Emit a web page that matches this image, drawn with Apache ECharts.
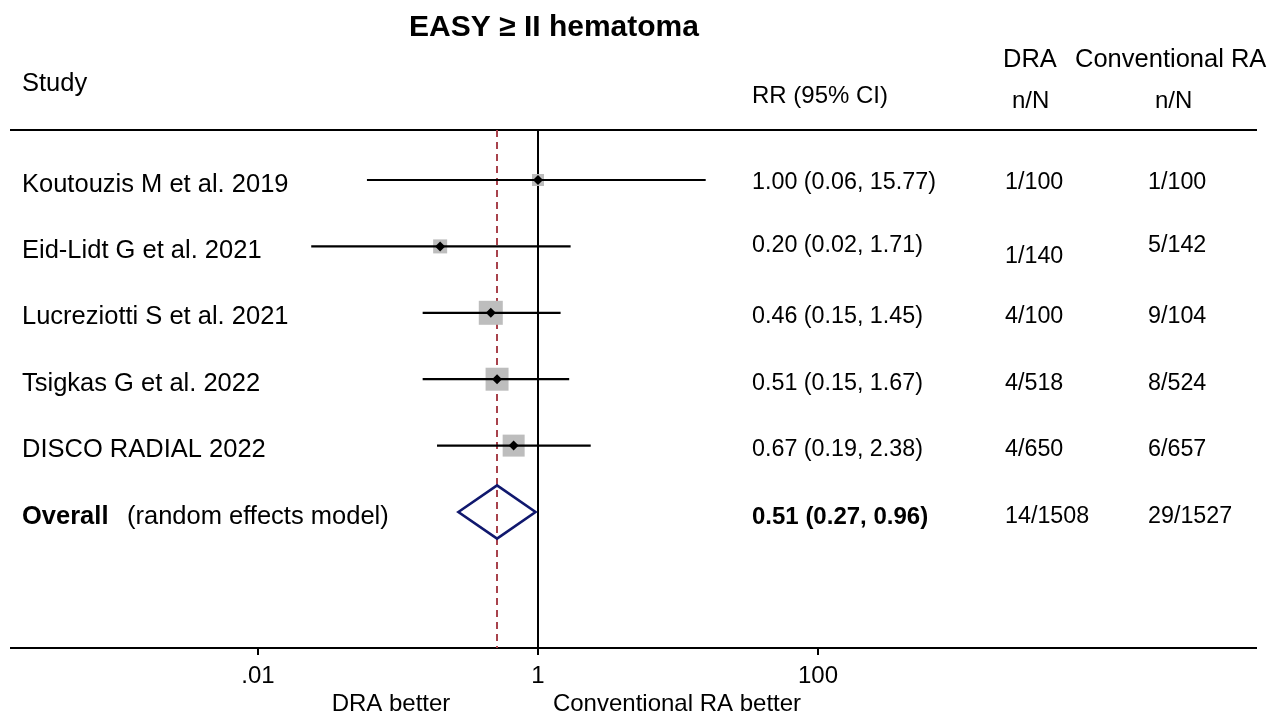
<!DOCTYPE html>
<html><head><meta charset="utf-8">
<script src="https://cdn.jsdelivr.net/npm/echarts@6/dist/echarts.min.js"></script>
<style>html,body{margin:0;padding:0;background:#fff}#c{width:1279px;height:717px}</style>
</head><body><div id="c"></div>
<script>
// ---------- data ----------
const studies = ['Koutouzis M et al. 2019','Eid-Lidt G et al. 2021','Lucreziotti S et al. 2021','Tsigkas G et al. 2022','DISCO RADIAL 2022'];
const rr      = [1.00, 0.20, 0.46, 0.51, 0.67];
const ciLow   = [0.06, 0.024, 0.15, 0.15, 0.19];
const ciHigh  = [15.77, 1.71, 1.45, 1.67, 2.38];
const weights = [7.5, 10.2, 29.9, 27.4, 25.1];
const draCounts  = ['1/100','1/140','4/100','4/518','4/650'];
const convCounts = ['1/100','5/142','9/104','8/524','6/657'];
const overallRR = 0.51, overallLow = 0.27, overallHigh = 0.96;
const overallDra = '14/1508', overallConv = '29/1527';
const tickLabels = {'-2':'.01','0':'1','2':'100'};

// ---------- layout ----------
const FONT = '"Liberation Sans", Arial, sans-serif';
const WORD = '25.5px ' + FONT, NUM = '23.3px ' + FONT;
const GRID_TOP = 130, GRID_BOTTOM_Y = 648;
const col = {name:22, rr:752, dra:1005, conv:1148};
const dyName = [5,5,4,5,4,5], dyRR = [3,-1,4,4,4,5], dyDra = [3,10,4,4,4,5], dyConv = [3,-1,4,4,4,5];

const chart = echarts.init(document.getElementById('c'), null, {renderer:'canvas'});

const studyData = studies.map((s,i)=>[i, ciLow[i], rr[i], ciHigh[i], weights[i]]);
const SIZE_K = 24/Math.sqrt(29.9);

chart.setOption({
  animation:false,
  backgroundColor:'#fff',
  grid:{left:258, right:1279-818, top:GRID_TOP, bottom:717-GRID_BOTTOM_Y},
  xAxis:{
    type:'log', logBase:100, min:0.01, max:100, interval:1, splitNumber:2,
    axisLine:{show:false, onZero:false},
    axisTick:{show:true, length:7, lineStyle:{color:'#000', width:2}},
    splitLine:{show:false},
    axisLabel:{color:'#000', fontSize:24, fontFamily:FONT, margin:16,
      formatter:v=>{const k=Math.round(Math.log10(v)); return tickLabels[String(k)]||'';}}
  },
  yAxis:{type:'value', inverse:true, min:-0.753, max:7.048, show:false},
  series:[
    {
      type:'custom', name:'studies', data:studyData,
      encode:{x:[1,2,3], y:0},
      z:5,
      renderItem:(params, api)=>{
        const i = api.value(0);
        const pLo = api.coord([api.value(1), i]);
        const p = api.coord([api.value(2), i]);
        const pHi = api.coord([api.value(3), i]);
        const s = SIZE_K*Math.sqrt(api.value(4));
        const d = 5;
        return {type:'group', children:[
          {type:'rect', shape:{x:p[0]-s/2, y:p[1]-s/2, width:s, height:s}, style:{fill:'#bdbdbd'}},
          {type:'line', shape:{x1:pLo[0], y1:pLo[1], x2:pHi[0], y2:pHi[1]}, style:{stroke:'#000', lineWidth:2.2}},
          {type:'polygon', shape:{points:[[p[0]-d,p[1]],[p[0],p[1]-d],[p[0]+d,p[1]],[p[0],p[1]+d]]}, style:{fill:'#000'}}
        ]};
      },
      markLine:{
        silent:true, symbol:'none', label:{show:false},
        data:[
          {xAxis:1, lineStyle:{color:'#000', width:2, type:'solid'}},
          {xAxis:overallRR, lineStyle:{color:'#a8424c', width:2, type:[7,5]}}
        ]
      }
    },
    {
      type:'custom', name:'overall', data:[[5, overallLow, overallRR, overallHigh]],
      encode:{x:[1,2,3], y:0}, z:6,
      renderItem:(params, api)=>{
        const i = api.value(0);
        const l = api.coord([api.value(1), i]);
        const r = api.coord([api.value(3), i]);
        const t = api.coord([api.value(2), i-0.4]);
        const b = api.coord([api.value(2), i+0.4]);
        return {type:'polygon', shape:{points:[l,t,r,b]}, style:{fill:'none', stroke:'#10186e', lineWidth:2.6}};
      }
    }
  ]
});

// ---------- text table ----------
const yPix = i => chart.convertToPixel({yAxisIndex:0}, i);
const txt = (text, x, y, opts={}) => ({type:'text', x, y, silent:true, style:Object.assign({
  text, fill:'#000', font:WORD, align:'left', verticalAlign:'middle'}, opts)});
const g = [];
g.push(txt('EASY ≥ II hematoma', 554, 28, {font:'bold 30px '+FONT, align:'center'}));
g.push(txt('Study', col.name, 84));
g.push(txt('RR (95% CI)', col.rr, 96, {font:'24px '+FONT}));
g.push(txt('DRA', 1003, 60));
g.push(txt('Conventional RA', 1075, 60));
g.push(txt('n/N', 1012, 101, {font:'24px '+FONT}));
g.push(txt('n/N', 1155, 101, {font:'24px '+FONT}));
studies.forEach((s,i)=>{
  const y = yPix(i);
  g.push(txt(s, col.name, y+dyName[i]));
  g.push(txt(rr[i].toFixed(2)+' ('+ciLow[i].toFixed(2)+', '+ciHigh[i].toFixed(2)+')', col.rr, y+dyRR[i], {font:NUM}));
  g.push(txt(draCounts[i], col.dra, y+dyDra[i], {font:NUM}));
  g.push(txt(convCounts[i], col.conv, y+dyConv[i], {font:NUM}));
});
const yo = yPix(5);
g.push(txt('Overall', col.name, yo+dyName[5], {font:'bold 25.5px '+FONT}));
g.push(txt('(random effects model)', 127, yo+dyName[5]));
g.push(txt(overallRR.toFixed(2)+' ('+overallLow.toFixed(2)+', '+overallHigh.toFixed(2)+')', col.rr, yo+dyRR[5], {font:'bold 24px '+FONT}));
g.push(txt(overallDra, col.dra, yo+dyDra[5], {font:NUM}));
g.push(txt(overallConv, col.conv, yo+dyConv[5], {font:NUM}));
// axis titles
g.push(txt('DRA better', 391, 704, {align:'center', font:'24px '+FONT}));
g.push(txt('Conventional RA better', 677, 704, {align:'center', font:'24px '+FONT}));
// rules
g.push({type:'line', silent:true, shape:{x1:10, y1:GRID_TOP, x2:1257, y2:GRID_TOP}, style:{stroke:'#000', lineWidth:2}});
g.push({type:'line', silent:true, shape:{x1:10, y1:GRID_BOTTOM_Y, x2:1257, y2:GRID_BOTTOM_Y}, style:{stroke:'#000', lineWidth:2}});
chart.setOption({graphic:g});
</script>
</body></html>
